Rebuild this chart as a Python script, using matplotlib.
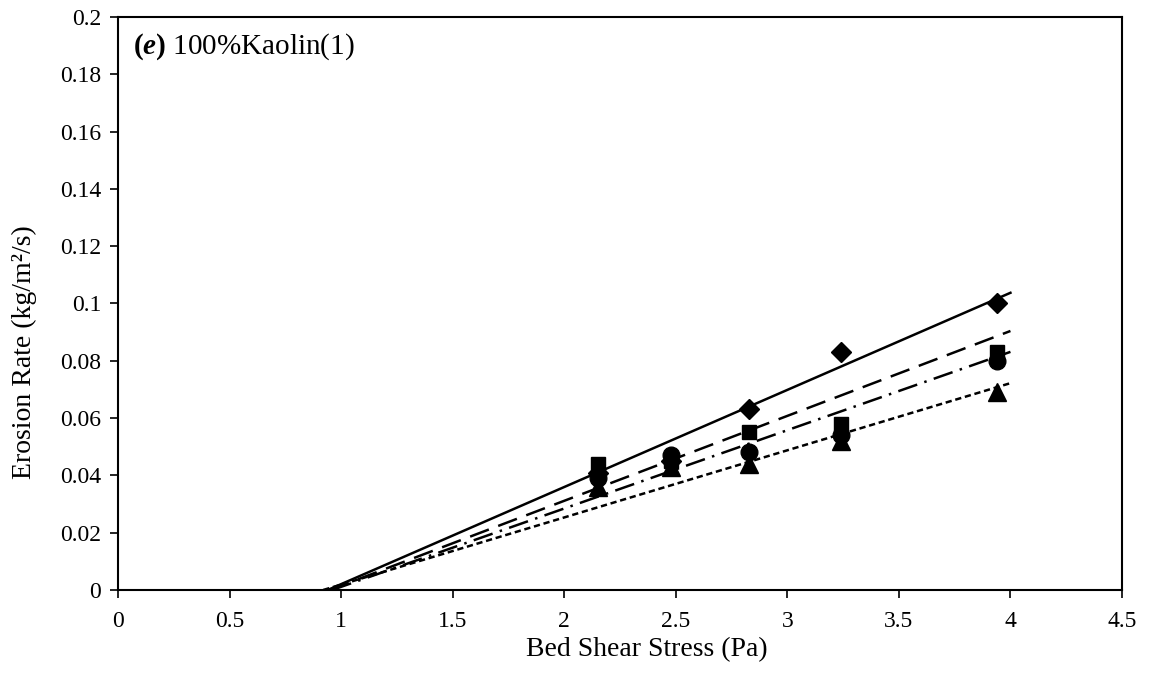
import numpy as np
import matplotlib
matplotlib.use("Agg")
import matplotlib.pyplot as plt
from matplotlib.ticker import FuncFormatter, MultipleLocator

plt.rcParams["font.family"] = ["Liberation Serif", "DejaVu Serif"]
plt.rcParams["mathtext.fontset"] = "custom"
plt.rcParams["mathtext.rm"] = "Liberation Serif"
plt.rcParams["mathtext.bf"] = "Liberation Serif:bold"
plt.rcParams["mathtext.it"] = "Liberation Serif:italic"
plt.rcParams["mathtext.bfit"] = "Liberation Serif:bold:italic"

# Bed shear stress (Pa) for the measured runs
shear_stress = [2.15, 2.48, 2.83, 3.24, 3.94]

# Measured erosion rates (kg/m2/s) for four series
rate_diamond = [0.041, 0.045, 0.063, 0.083, 0.100]
rate_square = [0.044, 0.045, 0.055, 0.058, 0.083]
rate_circle = [0.039, 0.047, 0.048, 0.054, 0.080]
rate_triangle = [0.036, 0.043, 0.044, 0.052, 0.069]

# Linear erosion law E = M (tau - tau_c): critical stress and rate constant
tau_c = [0.94, 0.95, 0.96, 0.92]
erod_M = [0.0339, 0.02964, 0.02734, 0.02344]
fit_end = 4.0

fig = plt.figure(figsize=(11.49, 6.8), dpi=100)
ax = fig.add_axes([0.1027, 0.1324, 0.8738, 0.8426])

line_styles = [
    dict(linestyle="-"),
    dict(linestyle=(0, (8, 4))),
    dict(linestyle=(0, (8, 3, 1, 3))),
    dict(linestyle=(0, (2.5, 1.5))),
]
for tc, m, ls in zip(tau_c, erod_M, line_styles):
    xs = np.linspace(tc, fit_end, 50)
    ax.plot(xs, m * (xs - tc), color="black", linewidth=1.8, zorder=2, **ls)

series = [
    (rate_diamond, "D", 10),
    (rate_square, "s", 10.5),
    (rate_circle, "o", 12),
    (rate_triangle, "^", 12.5),
]
for vals, mk, ms in series:
    ax.plot(shear_stress, vals, linestyle="none", marker=mk, markersize=ms,
            color="black", zorder=3)

ax.set_xlim(0, 4.5)
ax.set_ylim(0, 0.2)
ax.xaxis.set_major_locator(MultipleLocator(0.5))
ax.yaxis.set_major_locator(MultipleLocator(0.02))
fmt = FuncFormatter(lambda v, p: f"{round(v, 4):g}")
ax.xaxis.set_major_formatter(fmt)
ax.yaxis.set_major_formatter(fmt)
ax.tick_params(direction="out", length=6, width=1.2, labelsize=17,
               top=False, right=False)
ax.tick_params(axis="x", pad=9)
ax.tick_params(axis="y", pad=6)
for sp in ax.spines.values():
    sp.set_linewidth(1.5)

ax.set_xlabel("Bed Shear Stress (Pa)", fontsize=20)
ax.xaxis.set_label_coords(0.527, -0.083)
ax.set_ylabel("Erosion Rate (kg/m²/s)", fontsize=20)
ax.yaxis.set_label_coords(-0.081, 0.415)

ax.text(0.015, 0.975, r"$\mathbf{(}\mathbfit{e}\mathbf{)}$ 100%Kaolin(1)",
        transform=ax.transAxes, fontsize=21, va="top", ha="left")

fig.savefig("out.png", dpi=100)
